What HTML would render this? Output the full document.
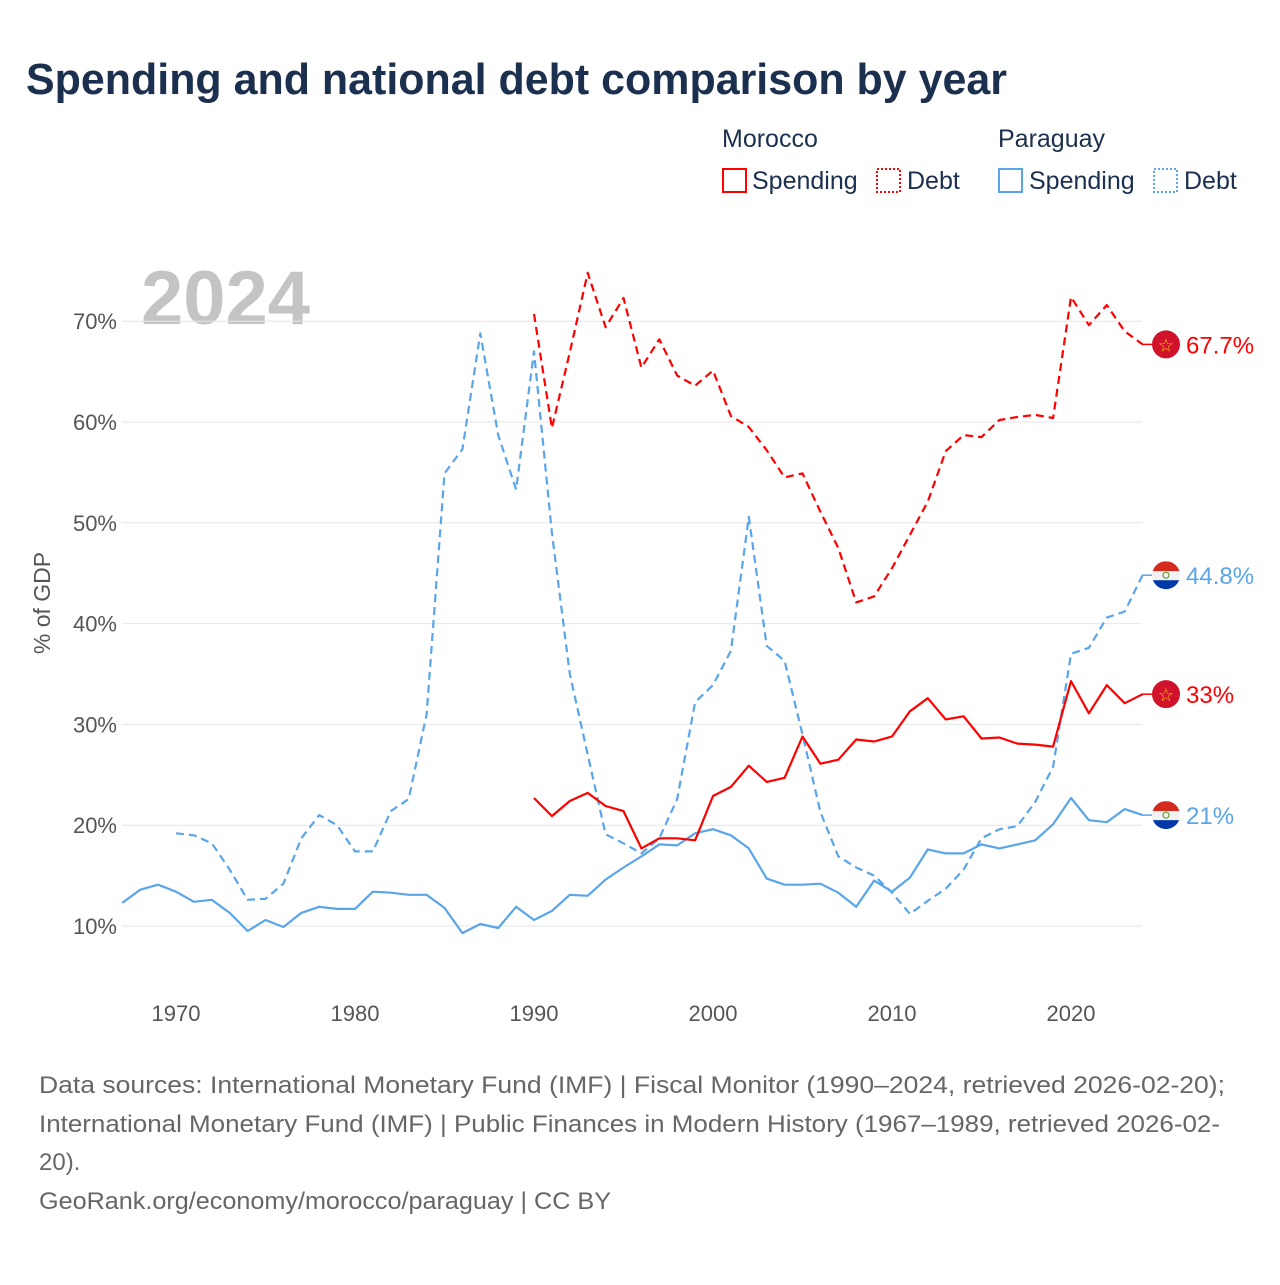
<!DOCTYPE html>
<html><head><meta charset="utf-8">
<style>
body{margin:0;background:#fff;width:1280px;height:1280px;overflow:hidden;font-family:"Liberation Sans",sans-serif}
svg text{font-family:"Liberation Sans",sans-serif}
</style></head>
<body>
<svg id="chart" width="1280" height="1280" xmlns="http://www.w3.org/2000/svg">
<text x="26" y="94" font-size="44" font-weight="bold" fill="#1b2f4e" textLength="981" lengthAdjust="spacingAndGlyphs">Spending and national debt comparison by year</text>
<g font-size="25" fill="#1b2f4e">
<text x="722" y="147">Morocco</text>
<text x="998" y="147">Paraguay</text>
<g><rect x="723" y="169" width="23" height="23" fill="none" stroke="#f00" stroke-width="2"/><text x="752" y="189">Spending</text></g>
<g><rect x="877" y="169" width="23" height="23" fill="none" stroke="#f00" stroke-width="2" stroke-dasharray="2,2"/><text x="907" y="189">Debt</text></g>
<g><rect x="999" y="169" width="23" height="23" fill="none" stroke="#5aa5ea" stroke-width="2"/><text x="1029" y="189">Spending</text></g>
<g><rect x="1154" y="169" width="23" height="23" fill="none" stroke="#5aa5ea" stroke-width="2" stroke-dasharray="2,2"/><text x="1184" y="189">Debt</text></g>
</g>
<text x="141" y="324" font-size="76" font-weight="bold" fill="#c4c4c4">2024</text>
<text transform="translate(50,603) rotate(-90)" text-anchor="middle" font-size="23" fill="#555">% of GDP</text>
<g id="grid"></g><g id="yticks"></g><g id="xticks"></g><g id="series"></g><g id="ends"></g>
<g font-size="24" fill="#666">
<text x="39" y="1093" textLength="1186" lengthAdjust="spacingAndGlyphs">Data sources: International Monetary Fund (IMF) | Fiscal Monitor (1990–2024, retrieved 2026-02-20);</text>
<text x="39" y="1132" textLength="1181" lengthAdjust="spacingAndGlyphs">International Monetary Fund (IMF) | Public Finances in Modern History (1967–1989, retrieved 2026-02-</text>
<text x="39" y="1170">20).</text>
<text x="39" y="1209" textLength="572" lengthAdjust="spacingAndGlyphs">GeoRank.org/economy/morocco/paraguay | CC BY</text>
</g>
</svg>
<script>
const yTicks=[10,20,30,40,50,60,70];
const xTicks=[1970,1980,1990,2000,2010,2020];
const paraSpendStart=1967;
const paraSpending=[12.3,13.6,14.1,13.4,12.4,12.6,11.3,9.5,10.6,9.9,11.3,11.9,11.7,11.7,13.4,13.3,13.1,13.1,11.8,9.3,10.2,9.8,11.9,10.6,11.5,13.1,13.0,14.6,15.8,16.9,18.1,18.0,19.2,19.6,19.0,17.7,14.7,14.1,14.1,14.2,13.3,11.9,14.5,13.4,14.8,17.6,17.2,17.2,18.1,17.7,18.1,18.5,20.1,22.7,20.5,20.3,21.6,21.0];
const paraDebtStart=1970;
const paraDebt=[19.2,19.0,18.2,15.6,12.6,12.7,14.2,18.7,21.0,20.0,17.4,17.4,21.4,22.6,31.0,54.9,57.3,68.8,58.7,53.3,67.0,49.0,35.0,27.0,19.1,18.2,17.2,18.7,22.6,32.2,33.9,37.3,50.6,37.8,36.3,29.0,21.3,16.9,15.8,15.0,13.3,11.2,12.5,13.7,15.6,18.7,19.6,19.9,22.3,25.8,37.0,37.6,40.6,41.2,44.8];
const morStart=1990;
const morSpending=[22.7,20.9,22.4,23.2,21.9,21.4,17.7,18.7,18.7,18.5,22.9,23.8,25.9,24.3,24.7,28.8,26.1,26.5,28.5,28.3,28.8,31.3,32.6,30.5,30.8,28.6,28.7,28.1,28.0,27.8,34.3,31.1,33.9,32.1,33.0];
const morDebt=[70.7,59.4,66.9,74.8,69.4,72.3,65.4,68.2,64.6,63.6,65.1,60.6,59.5,57.2,54.5,54.9,51.1,47.5,42.1,42.7,45.5,48.8,52.1,57.1,58.7,58.5,60.2,60.5,60.7,60.4,72.4,69.6,71.6,69.0,67.7];
const NS='http://www.w3.org/2000/svg';
const X=y=>176+(y-1970)*17.9;
const Y=v=>926-(v-10)*10.08;
function mk(t,a,p){const e=document.createElementNS(NS,t);for(const k in a)e.setAttribute(k,a[k]);p.appendChild(e);return e;}
const grid=document.getElementById('grid'),yt=document.getElementById('yticks'),xt=document.getElementById('xticks');
yTicks.forEach(v=>{
 const l=mk('line',{x1:122,x2:1142,y1:Y(v),y2:Y(v),stroke:'#e6e6e6','stroke-width':1},grid);
 
 
 const t=mk('text',{x:117,y:Y(v)+8,'text-anchor':'end','font-size':22,fill:'#555'},yt);
 t.textContent=v+'%';
 
 
});
xTicks.forEach(y=>{
 const t=mk('text',{x:X(y),y:1021,'text-anchor':'middle','font-size':22,fill:'#555'},xt);
 t.textContent=y;
 
 
});
const ser=document.getElementById('series');
function line(start,vals,color,dash,name){
 const d=vals.map((v,i)=>(i?'L':'M')+X(start+i).toFixed(1)+','+Y(v).toFixed(1)).join('');
 const a={d:d,fill:'none',stroke:color,'stroke-width':2.2,'stroke-linejoin':'round'};
 if(dash)a['stroke-dasharray']='8,5';
 const p=mk('path',a,ser);
 
 
}
line(paraSpendStart,paraSpending,'#5aa5ea',false,'paraguay-spending-line');
line(paraDebtStart,paraDebt,'#5aa5ea',true,'paraguay-debt-line');
line(morStart,morSpending,'#f00',false,'morocco-spending-line');
line(morStart,morDebt,'#f00',true,'morocco-debt-line');
const ends=document.getElementById('ends');
function endLabel(vals,color,flag,name){
 const v=vals[vals.length-1],y=Y(v);
 const g=mk('g',{},ends);
 
 
 mk('line',{x1:1142,x2:1152,y1:y,y2:y,stroke:color,'stroke-width':1.5},g);
 if(flag==='ma'){
  mk('circle',{cx:1166,cy:y,r:14,fill:'#d0122b'},g);
  const s=mk('text',{x:1166,y:y+7,'text-anchor':'middle','font-size':18,fill:'#f5c518'},g);s.textContent='☆';
 }else{
  mk('clipPath',{id:'c'+name},g);
  const cp=document.getElementById('c'+name);
  mk('circle',{cx:1166,cy:y,r:14},cp);
  const gg=mk('g',{'clip-path':'url(#c'+name+')'},g);
  mk('rect',{x:1150,y:y-14,width:32,height:10,fill:'#d52b1e'},gg);
  mk('rect',{x:1150,y:y-4,width:32,height:9,fill:'#f2f2f2'},gg);
  mk('rect',{x:1150,y:y+5,width:32,height:10,fill:'#0038a8'},gg);
  mk('circle',{cx:1166,cy:y,r:3,fill:'none',stroke:'#6a9a3a','stroke-width':1.2},gg);
 }
 const t=mk('text',{x:1186,y:y+9,'font-size':24,fill:color},g);
 t.textContent=(Math.round(v*10)/10)+'%';
}
endLabel(morDebt,'#f00','ma','morocco-debt-end-label');
endLabel(morSpending,'#f00','ma','morocco-spending-end-label');
endLabel(paraDebt,'#5aa5ea','py','paraguay-debt-end-label');
endLabel(paraSpending,'#5aa5ea','py','paraguay-spending-end-label');
</script>
</body></html>
